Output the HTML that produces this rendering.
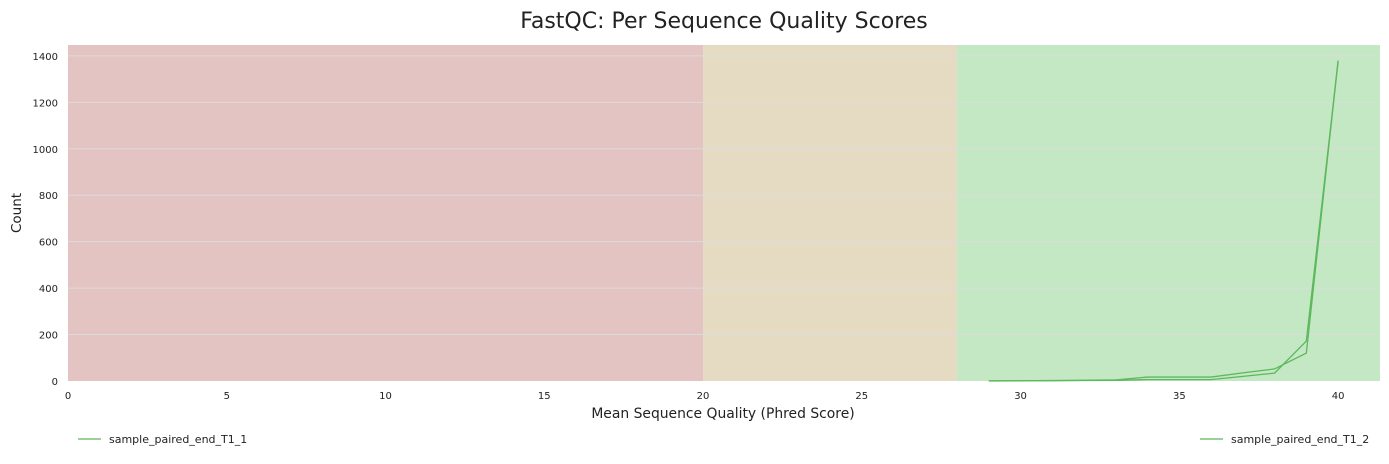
<!DOCTYPE html>
<html><head><meta charset="utf-8">
<style>
body{margin:0;background:#fff;font-family:"DejaVu Sans","Liberation Sans",sans-serif;}
svg text{font-family:"DejaVu Sans","Liberation Sans",sans-serif;}
</style></head>
<body>
<svg id="chart" width="1389" height="460">
<text x="724" y="28" font-size="22" text-anchor="middle" fill="#222">FastQC: Per Sequence Quality Scores</text>
<g id="plot"></g>
<text x="723" y="418" font-size="13.9" text-anchor="middle" fill="#222">Mean Sequence Quality (Phred Score)</text>
<text x="21" y="213" font-size="13.5" text-anchor="middle" fill="#222" transform="rotate(-90 21 213)">Count</text>
<g>
<line x1="78" y1="439" x2="101" y2="439" stroke="#5cb85c" stroke-width="1.2"/>
<text x="109" y="443" font-size="11" fill="#222">sample_paired_end_T1_1</text></g>
<g>
<line x1="1200" y1="439" x2="1223" y2="439" stroke="#5cb85c" stroke-width="1.2"/>
<text x="1231" y="443" font-size="11" fill="#222">sample_paired_end_T1_2</text></g>
</svg>
<script>
const xCats=[29,30,31,32,33,34,35,36,37,38,39,40];
const seriesA=[1,1,2,3,5,17,17,17,35,52,120,1380];
const seriesB=[0,1,1,2,3,6,6,6,20,34,172,1375];
const xTicks=[0,5,10,15,20,25,30,35,40];
const yTicks=[0,200,400,600,800,1000,1200,1400];
const zones=[[0,20,'#e4c3c3'],[20,28,'#e5dbc3'],[28,41.32,'#c4e7c4']];
const L=68,R=1380,T=45,B=381,XMAX=41.32,YMAX=1447;
const xs=v=>L+v/XMAX*(R-L);
const ys=v=>B-v/YMAX*(B-T);
const NS='http://www.w3.org/2000/svg';
const g=document.getElementById('plot');
function mk(t,a){const e=document.createElementNS(NS,t);for(const k in a)e.setAttribute(k,a[k]);g.appendChild(e);return e;}
zones.forEach(z=>{
 const r=mk('rect',{x:xs(z[0]),y:T,width:xs(z[1])-xs(z[0]),height:B-T,fill:z[2]});
 
 
});
yTicks.forEach(v=>{
 if(v>0){const l=mk('line',{x1:L,x2:R,y1:ys(v),y2:ys(v),stroke:'#dcdcdc','stroke-width':1});
 
 }
 const t=mk('text',{x:L-10,y:ys(v)+4,'font-size':10,'text-anchor':'end',fill:'#222'});t.textContent=v;
 
 
});
xTicks.forEach(v=>{
 const t=mk('text',{x:xs(v),y:B+18,'font-size':10,'text-anchor':'middle',fill:'#222'});t.textContent=v;
 
 
});
[seriesA,seriesB].forEach((s,i)=>{
 const p=mk('polyline',{points:s.map((v,j)=>xs(xCats[j])+','+ys(v)).join(' '),fill:'none',stroke:'#5cb85c','stroke-width':1.3});
 
 
});
</script>
</body></html>
